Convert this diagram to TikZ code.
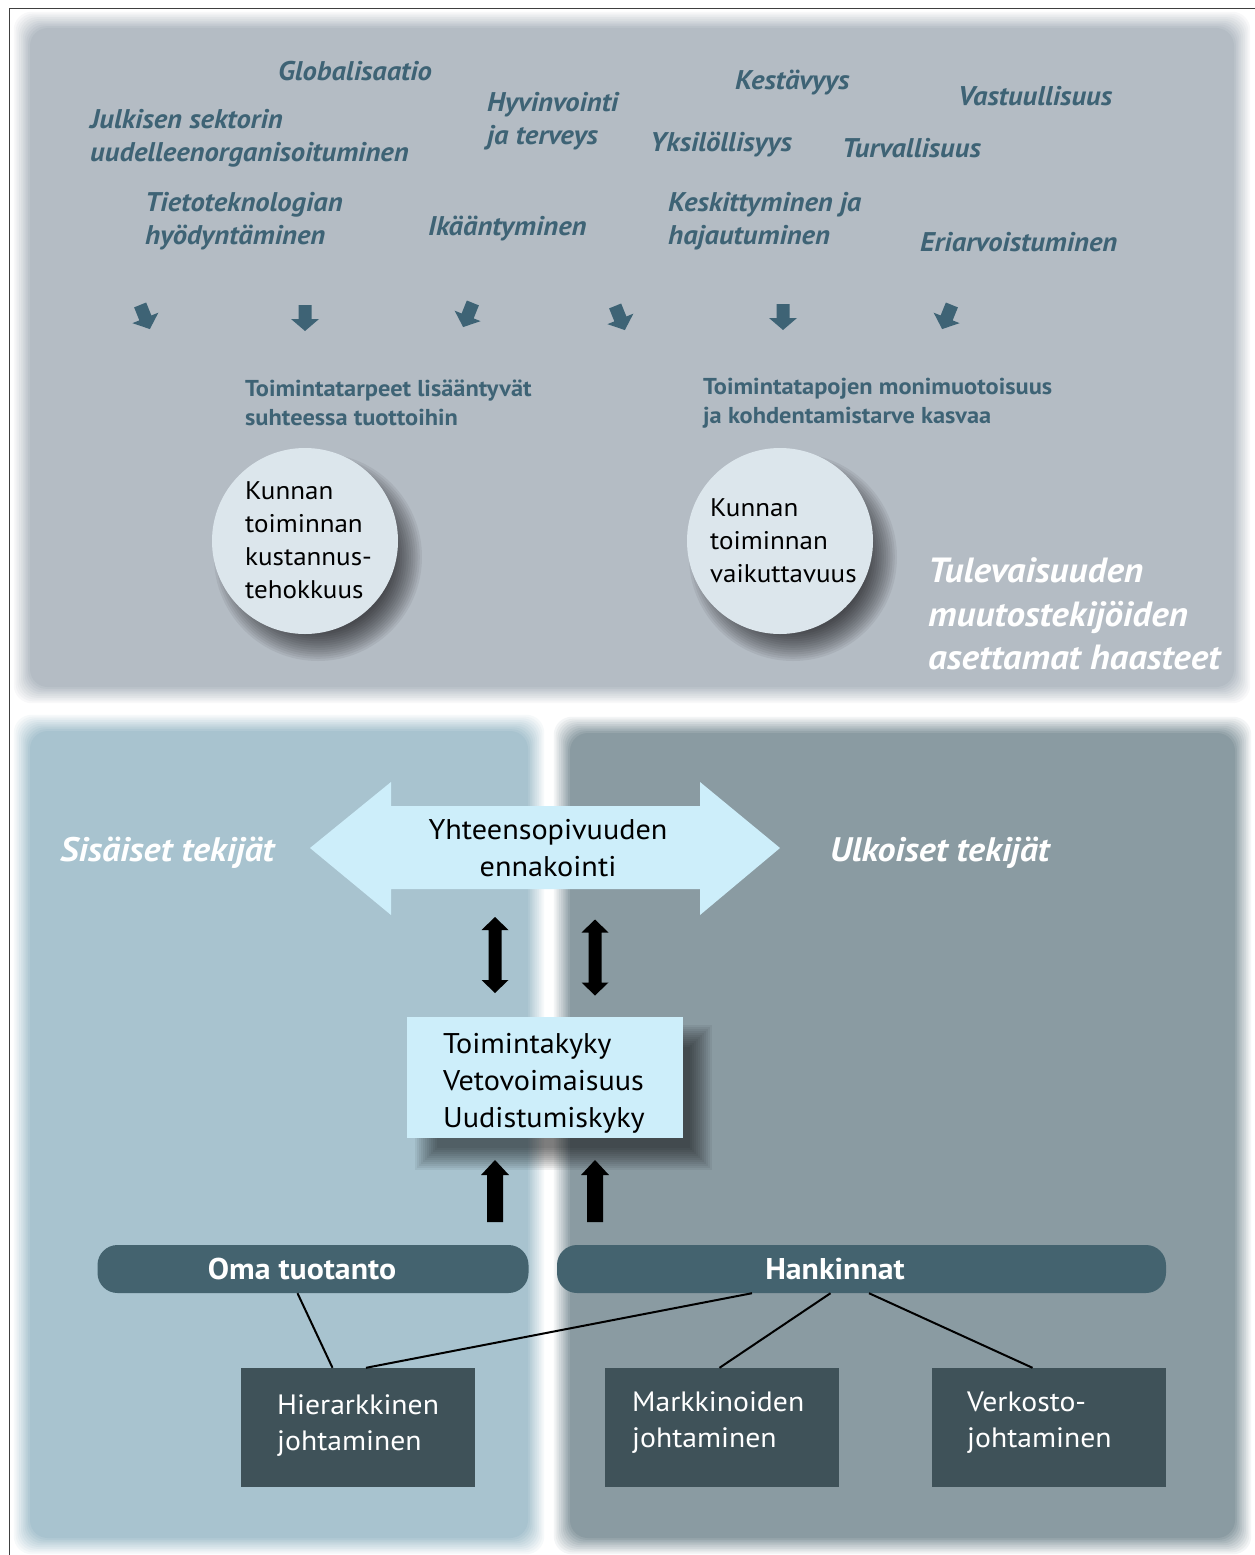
\documentclass[tikz,border=0pt]{standalone}
\usepackage{fontspec}
\setmainfont[FakeStretch=1.06]{PT Sans}
\usetikzlibrary{calc}
\definecolor{topgray}{HTML}{B4BCC4}
\definecolor{leftblue}{HTML}{A8C3CF}
\definecolor{rightgray}{HTML}{8A9BA2}
\definecolor{tealtext}{HTML}{3E6375}
\definecolor{circfill}{HTML}{DCE6EC}
\definecolor{lightblue}{HTML}{CDEEFA}
\definecolor{barteal}{HTML}{44636F}
\definecolor{darkbox}{HTML}{3F5259}
\tikzset{
  word/.style={anchor=base west, inner sep=0pt, text=tealtext, font=\fontsize{27}{32}\selectfont\bfseries\itshape},
  midtxt/.style={anchor=base west, inner sep=0pt, text=tealtext, font=\fontsize{23}{27}\selectfont\bfseries},
  circtxt/.style={anchor=base west, inner sep=0pt, text=black, font=\fontsize{25.5}{30}\selectfont},
  bigwhite/.style={anchor=base west, inner sep=0pt, text=white, font=\fontsize{35}{40}\selectfont\bfseries\itshape},
  sidetxt/.style={anchor=base west, inner sep=0pt, text=white, font=\fontsize{34}{38}\selectfont\bfseries\itshape},
  blacktxt/.style={inner sep=0pt, text=black, font=\fontsize{28.5}{34}\selectfont},
  bartxt/.style={anchor=base, inner sep=0pt, text=white, font=\fontsize{30}{34}\selectfont\bfseries},
  boxtxt/.style={anchor=base west, inner sep=0pt, text=white, font=\fontsize{28}{32}\selectfont},
  circlebox/.style={circle, fill=circfill, minimum size=186pt, inner sep=0pt},
  barbox/.style={fill=barteal, rounded corners=20pt, minimum height=48pt, inner sep=0pt},
  darkbx/.style={fill=darkbox, minimum height=119pt, minimum width=234pt, inner sep=0pt},
  link/.style={draw=black, line width=2pt},
  pics/darr/.style={code={\fill (-6.5,-13) -- (6.5,-13) -- (6.5,1) -- (14,1) -- (0,13) -- (-14,1) -- (-6.5,1) -- cycle;}},
  pics/dblarr/.style={code={\fill (0,-38) -- (13.5,-25) -- (6.5,-25) -- (6.5,25) -- (13.5,25) -- (0,38) -- (-13.5,25) -- (-6.5,25) -- (-6.5,-25) -- (-13.5,-25) -- cycle;}},
  pics/uparr/.style={code={\fill (0,-31) -- (14,-16) -- (8,-16) -- (8,31) -- (-8,31) -- (-8,-16) -- (-14,-16) -- cycle;}}
}
\begin{document}
\begin{tikzpicture}[x=1pt,y=-1pt]
\useasboundingbox (0,0) rectangle (1255,1555);
\fill[white] (0,0) rectangle (1255,1555);

% panels with soft edges
\foreach \i in {0,...,10}{
  \pgfmathtruncatemacro\pp{\i*10}
  \fill[topgray!\pp!white, rounded corners=18pt] ({12+1.8*\i},{10+1.8*\i}) rectangle ({1252-1.8*\i},{705-1.8*\i});
  \fill[leftblue!\pp!white, rounded corners=18pt] ({12+1.8*\i},{713+1.8*\i}) rectangle ({546-1.8*\i},{1556-1.8*\i});
  \fill[rightgray!\pp!white, rounded corners=18pt] ({552+1.8*\i},{715+1.8*\i}) rectangle ({1253-1.8*\i},{1556-1.8*\i});
}
\draw[black!75, line width=1.2pt] (9.5,1555) -- (9.5,8.5) -- (1255,8.5);

% top words
\node[word] (w1) at (278,81) {Globalisaatio};
\node[word] (w2) at (90,128) {Julkisen sektorin};
\node[word] (w3) at (90,161) {uudelleenorganisoituminen};
\node[word] (w4) at (145,211) {Tietoteknologian};
\node[word] (w5) at (145,244) {hyödyntäminen};
\node[word] (w6) at (487,111) {Hyvinvointi};
\node[word] (w7) at (487,144) {ja terveys};
\node[word] (w8) at (428,235) {Ikääntyminen};
\node[word] (w9) at (735,89) {Kestävyys};
\node[word] (w10) at (650,151) {Yksilöllisyys};
\node[word] (w11) at (668,211) {Keskittyminen ja};
\node[word] (w12) at (668,244) {hajautuminen};
\node[word] (w13) at (958,105) {Vastuullisuus};
\node[word] (w14) at (842,157) {Turvallisuus};
\node[word] (w15) at (920,251) {Eriarvoistuminen};

% small arrows
\pic[tealtext, rotate=22] at (145,317) {darr};
\pic[tealtext] at (305,318) {darr};
\pic[tealtext, rotate=-22] at (468,315) {darr};
\pic[tealtext, rotate=22] at (620,318) {darr};
\pic[tealtext] at (783,317) {darr};
\pic[tealtext, rotate=-22] at (947,317) {darr};

% middle texts
\node[midtxt] (m1) at (245,396) {Toimintatarpeet lisääntyvät};
\node[midtxt] (m2) at (245,425) {suhteessa tuottoihin};
\node[midtxt] (m3) at (703,394) {Toimintatapojen monimuotoisuus};
\node[midtxt] (m4) at (703,423) {ja kohdentamistarve kasvaa};

% circles with shadows
\foreach \i in {0,...,13}{
  \fill[black, opacity=0.06] (318,557) circle ({104-2.2*\i});
  \fill[black, opacity=0.06] (793,557) circle ({104-2.2*\i});
}
\node[circlebox] (c1) at (305,541) {};
\node[circlebox] (c2) at (780,541) {};
\node[circtxt] (c1a) at (245,499) {Kunnan};
\node[circtxt] (c1b) at (245,532) {toiminnan};
\node[circtxt] (c1c) at (245,565) {kustannus-};
\node[circtxt] (c1d) at (245,598) {tehokkuus};
\node[circtxt] (c2a) at (710,516) {Kunnan};
\node[circtxt] (c2b) at (710,549) {toiminnan};
\node[circtxt] (c2c) at (710,582) {vaikuttavuus};

\node[bigwhite] (t1) at (928,582) {Tulevaisuuden};
\node[bigwhite] (t2) at (928,626) {muutostekijöiden};
\node[bigwhite] (t3) at (928,669) {asettamat haasteet};

% bottom
\node[sidetxt] (s1) at (60,861) {Sisäiset tekijät};
\node[sidetxt] (s2) at (830,861) {Ulkoiset tekijät};

\fill[lightblue] (310,848) -- (391,782) -- (391,806) -- (700,806) -- (700,782) -- (780,848) -- (700,915) -- (700,889) -- (391,889) -- (391,915) -- cycle;
\node[blacktxt, anchor=base] (y1) at (548,839) {Yhteensopivuuden};
\node[blacktxt, anchor=base] (y2) at (548,876) {ennakointi};

\pic[black] at (495,955) {dblarr};
\pic[black] at (595,957.5) {dblarr};

\foreach \i in {0,...,11}{
  \fill[black, opacity=0.055] ({415+2*\i},{1025+2*\i}) rectangle ({712-2*\i},{1170-2*\i});
}
\node[fill=lightblue, minimum width=276pt, minimum height=121pt, inner sep=0pt] (tk) at (545,1077.5) {};
\node[blacktxt, anchor=base west] (tk1) at (443,1053) {Toimintakyky};
\node[blacktxt, anchor=base west] (tk2) at (443,1090) {Vetovoimaisuus};
\node[blacktxt, anchor=base west] (tk3) at (443,1127) {Uudistumiskyky};

\pic[black] at (495,1191) {uparr};
\pic[black] at (595,1191) {uparr};

\node[barbox, minimum width=431pt] (oma) at (313,1269) {};
\node[barbox, minimum width=609pt] (hank) at (861.5,1269) {};
\node[bartxt] (omat) at (302,1279) {Oma tuotanto};
\node[bartxt] (hankt) at (835,1279) {Hankinnat};

\node[darkbx] (hier) at (358,1427.5) {};
\node[darkbx] (mark) at (721.5,1427.5) {};
\node[darkbx] (verk) at (1048.5,1427.5) {};
\node[boxtxt] (h1) at (277,1414) {Hierarkkinen};
\node[boxtxt] (h2) at (277,1450) {johtaminen};
\node[boxtxt] (k1) at (632,1411) {Markkinoiden};
\node[boxtxt] (k2) at (632,1447) {johtaminen};
\node[boxtxt] (v1) at (967,1411) {Verkosto-};
\node[boxtxt] (v2) at (967,1447) {johtaminen};

\draw[link] ([xshift=-15.5pt]oma.south) -- ([xshift=-25.5pt]hier.north);
\draw[link] ([xshift=-109.5pt]hank.south) -- ([xshift=8pt]hier.north);
\draw[link] ([xshift=-31pt]hank.south) -- ([xshift=-2pt]mark.north);
\draw[link] ([xshift=7.5pt]hank.south) -- ([xshift=-16pt]verk.north);
\end{tikzpicture}
\end{document}
